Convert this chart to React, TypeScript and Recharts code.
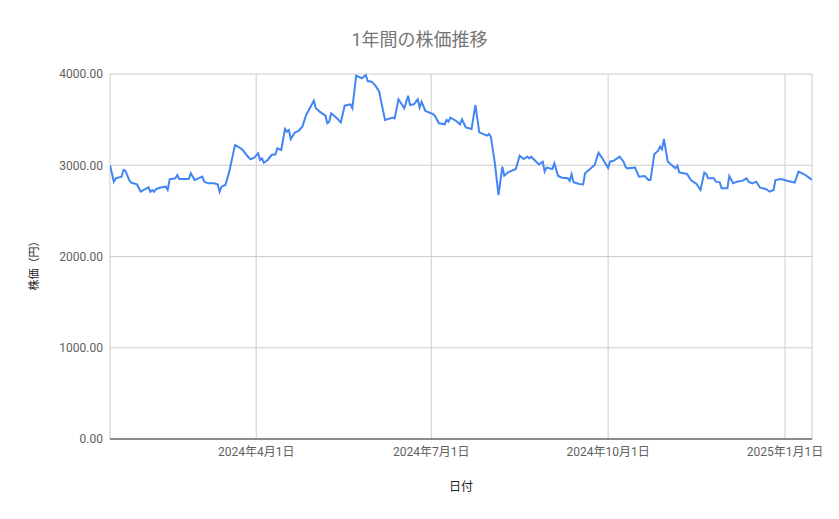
import React from 'react';
import { LineChart, Line, XAxis, YAxis, CartesianGrid } from 'recharts';

const dates: string[] = [
  '2024-01-16','2024-01-18','2024-01-19','2024-01-22','2024-01-23','2024-01-24','2024-01-26','2024-01-27','2024-01-30',
  '2024-02-01','2024-02-03','2024-02-05','2024-02-06','2024-02-07','2024-02-08','2024-02-09','2024-02-12','2024-02-14',
  '2024-02-15','2024-02-16','2024-02-19','2024-02-20','2024-02-21','2024-02-26','2024-02-27','2024-02-29',
  '2024-03-02','2024-03-04','2024-03-05','2024-03-07','2024-03-10','2024-03-12','2024-03-13','2024-03-14','2024-03-16',
  '2024-03-18','2024-03-21','2024-03-24','2024-03-25','2024-03-27','2024-03-29','2024-03-31',
  '2024-04-02','2024-04-03','2024-04-04','2024-04-05','2024-04-07','2024-04-09','2024-04-11','2024-04-12','2024-04-14',
  '2024-04-16','2024-04-17','2024-04-18','2024-04-19','2024-04-21','2024-04-23','2024-04-25','2024-04-27',
  '2024-05-01','2024-05-02','2024-05-04','2024-05-07','2024-05-08','2024-05-09','2024-05-10','2024-05-13','2024-05-15',
  '2024-05-17','2024-05-20','2024-05-21','2024-05-23','2024-05-26','2024-05-28','2024-05-29','2024-05-31',
  '2024-06-02','2024-06-04','2024-06-05','2024-06-07','2024-06-11','2024-06-12','2024-06-14','2024-06-17','2024-06-19',
  '2024-06-20','2024-06-22','2024-06-24','2024-06-25','2024-06-26','2024-06-28',
  '2024-07-02','2024-07-03','2024-07-05','2024-07-08','2024-07-09','2024-07-10','2024-07-11','2024-07-14','2024-07-16',
  '2024-07-17','2024-07-19','2024-07-22','2024-07-24','2024-07-26','2024-07-30','2024-07-31',
  '2024-08-01','2024-08-03','2024-08-05','2024-08-07','2024-08-08','2024-08-10','2024-08-14','2024-08-16','2024-08-18',
  '2024-08-20','2024-08-21','2024-08-22','2024-08-26','2024-08-28','2024-08-29','2024-08-30',
  '2024-09-02','2024-09-03','2024-09-05','2024-09-07','2024-09-10','2024-09-11','2024-09-12','2024-09-13','2024-09-16',
  '2024-09-18','2024-09-19','2024-09-21','2024-09-24','2024-09-26','2024-09-28',
  '2024-10-01','2024-10-02','2024-10-04','2024-10-07','2024-10-09','2024-10-10','2024-10-11','2024-10-15','2024-10-17',
  '2024-10-20','2024-10-22','2024-10-23','2024-10-25','2024-10-27','2024-10-28','2024-10-29','2024-10-30',
  '2024-11-01','2024-11-03','2024-11-05','2024-11-06','2024-11-07','2024-11-11','2024-11-13','2024-11-16','2024-11-18',
  '2024-11-20','2024-11-21','2024-11-22','2024-11-25','2024-11-26','2024-11-28','2024-11-29',
  '2024-12-02','2024-12-03','2024-12-05','2024-12-07','2024-12-10','2024-12-12','2024-12-13','2024-12-15','2024-12-17',
  '2024-12-19','2024-12-22','2024-12-24','2024-12-26','2024-12-27','2024-12-30',
  '2025-01-02','2025-01-06','2025-01-08','2025-01-11','2025-01-15',
];

const prices: number[] = [
  3000,2820,2857,2875,2948,2940,2838,2810,2790,
  2710,2735,2758,2710,2729,2710,2740,2758,2765,
  2729,2846,2857,2893,2849,2849,2912,2838,
  2857,2875,2820,2802,2802,2790,2710,2765,2784,
  2930,3222,3185,3167,3112,3065,3083,
  3131,3058,3076,3028,3058,3112,3120,3185,3167,
  3397,3368,3386,3288,3357,3375,3423,3551,
  3707,3624,3588,3543,3460,3478,3569,3514,3470,
  3653,3668,3624,3981,3953,3989,3923,3916,
  3872,3806,3696,3496,3522,3514,3723,3624,3762,
  3660,3668,3723,3632,3696,3596,
  3560,3540,3460,3449,3496,3478,3522,3485,3449,
  3503,3414,3397,3660,3361,3324,3342,
  3313,3039,2674,2984,2885,2922,2959,3105,3068,
  3094,3076,3094,3010,3039,2930,2974,
  2959,3021,2882,2864,2857,2827,2901,2813,2795,
  2790,2912,2948,3003,3138,3076,
  2970,3039,3050,3094,3039,2984,2966,2974,2875,
  2882,2838,2838,3120,3160,3204,3175,3288,
  3039,3003,2966,2995,2922,2904,2838,2795,2729,
  2919,2904,2857,2857,2820,2813,2747,
  2747,2882,2802,2820,2831,2857,2820,2802,2820,
  2754,2740,2710,2729,2838,2849,
  2831,2810,2930,2901,2840,
];

const xTickDates: string[] = ['2024-04-01', '2024-07-01', '2024-10-01', '2025-01-01'];
const yTicks: number[] = [0, 1000, 2000, 3000, 4000];
const xDomainDates: string[] = ['2024-01-16', '2025-01-15'];

const title = '1年間の株価推移';
const xLabel = '日付';
const yLabel = '株価（円）';

const data = dates.map((d, i) => ({ ts: Date.parse(d), price: prices[i] }));
const xTicks = xTickDates.map((d) => Date.parse(d));
const xDomain = xDomainDates.map((d) => Date.parse(d));

const FONT = "Roboto, 'Noto Sans CJK JP', sans-serif";

const fmtDate = (t: number) => {
  const d = new Date(t);
  return `${d.getUTCFullYear()}年${d.getUTCMonth() + 1}月${d.getUTCDate()}日`;
};

export default function App() {
  return (
    <div style={{ position: 'absolute', left: 0, top: 0, width: 839, height: 519, background: '#fff' }}>
      <div
        style={{
          position: 'absolute',
          left: 0,
          top: 28,
          width: 839,
          textAlign: 'center',
          fontFamily: FONT,
          fontSize: 18,
          color: '#757575',
          lineHeight: '24px',
        }}
      >
        {title}
      </div>
      <LineChart
        width={839}
        height={519}
        data={data}
        margin={{ top: 74, right: 27, bottom: 30, left: 0 }}
      >
        <CartesianGrid stroke="#cccccc" strokeWidth={1} />
        <XAxis
          dataKey="ts"
          type="number"
          domain={xDomain}
          ticks={xTicks}
          tickFormatter={fmtDate}
          allowDataOverflow
          height={50}
          axisLine={{ stroke: '#333333', strokeWidth: 1 }}
          tickLine={false}
          tickSize={6}
          tickMargin={2}
          tick={{ fill: '#5f5f5f', fontSize: 12, fontFamily: FONT }}
          label={{
            content: () => (
              <text x={461} y={491} textAnchor="middle" fill="#222" fontSize={12} fontFamily={FONT}>
                {xLabel}
              </text>
            ),
          }}
        />
        <YAxis
          type="number"
          domain={[0, 4000]}
          ticks={yTicks}
          tickFormatter={(v: number) => v.toFixed(2)}
          width={110}
          axisLine={false}
          tickLine={false}
          tickSize={5}
          tickMargin={2}
          tick={{ fill: '#5f5f5f', fontSize: 12, fontFamily: FONT }}
          label={{
            content: () => (
              <text
                x={38}
                y={263}
                textAnchor="middle"
                fill="#222"
                fontSize={11}
                fontFamily={FONT}
                transform="rotate(-90 38 263)"
              >
                {yLabel}
              </text>
            ),
          }}
        />
        <Line
          type="linear"
          dataKey="price"
          stroke="#4285f4"
          strokeWidth={2}
          dot={false}
          activeDot={false}
          isAnimationActive={false}
        />
      </LineChart>
    </div>
  );
}
